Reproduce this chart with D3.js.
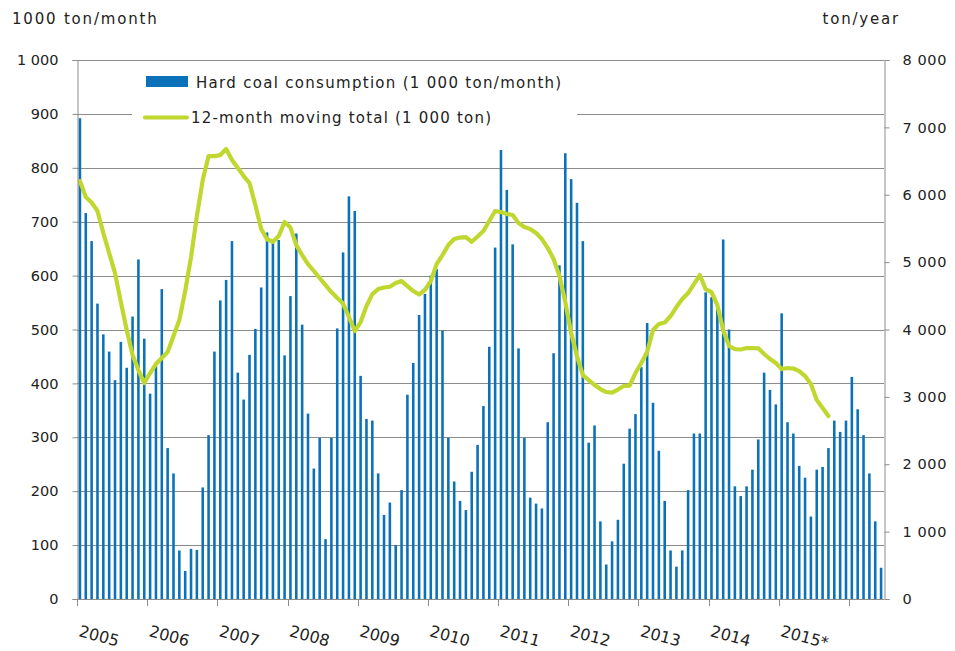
<!DOCTYPE html>
<html><head><meta charset="utf-8">
<script src="https://cdn.jsdelivr.net/npm/d3@7"></script>
<style>
body{margin:0;background:#fff;}
svg{display:block;font-family:"DejaVu Sans",Verdana,sans-serif;}
</style></head>
<body><svg id="c" width="955" height="651"></svg>
<script>
// ---------- DATA ----------
const years = ["2005","2006","2007","2008","2009","2010","2011","2012","2013","2014","2015","2016"];
const yearLabels = ["2005","2006","2007","2008","2009","2010","2011","2012","2013","2014","2015*"];
// Hard coal consumption, 1 000 ton/month (Jan 2005 ... Jun 2016)
const consumption = [
 892,716,664,548,491,459,406,477,429,524,630,483,
 381,432,575,280,233,90,52,93,91,207,304,459,
 554,592,664,420,370,453,501,578,680,666,666,452,
 562,678,509,344,242,299,111,299,502,643,747,720,
 414,334,331,233,156,179,100,202,379,438,527,566,
 600,612,498,299,218,182,165,236,286,358,468,652,
 833,759,658,465,299,188,177,168,328,456,619,827,
 779,735,664,290,322,144,64,107,147,251,316,343,
 430,512,364,275,182,90,60,90,202,307,307,569,
 560,540,667,500,209,191,209,240,296,420,388,361,
 530,328,307,247,225,153,240,245,280,331,310,331,
 412,352,304,233,144,58
];
// 12-month moving total, 1 000 ton
const movingTotal = [
 6203,5966,5884,5758,5431,5135,4838,4407,3992,3621,3398,3205,
 3354,3487,3576,3665,3903,4140,4571,5075,5684,6218,6574,6574,
 6589,6678,6515,6396,6277,6173,5847,5491,5340,5302,5387,5595,
 5513,5253,5105,4971,4868,4764,4660,4556,4467,4385,4185,3977,
 4111,4348,4526,4600,4623,4635,4690,4719,4645,4571,4519,4586,
 4719,4971,5105,5253,5342,5365,5372,5302,5380,5461,5610,5758,
 5743,5714,5699,5580,5520,5491,5431,5342,5209,5046,4793,4407,
 3947,3606,3324,3250,3176,3116,3072,3064,3109,3161,3168,3354,
 3502,3665,3992,4081,4103,4200,4333,4452,4541,4675,4808,4600,
 4556,4363,3992,3755,3710,3703,3725,3725,3720,3636,3562,3502,
 3413,3428,3421,3383,3309,3191,2953,2834,2716
];
const leftTicks = [0,100,200,300,400,500,600,700,800,900,1000];
const rightTicks = [0,1000,2000,3000,4000,5000,6000,7000,8000];
const seriesNames = ["Hard coal consumption (1 000 ton/month)","12-month moving total (1 000 ton)"];

// ---------- LAYOUT ----------
const months = [];
years.forEach(y => { for (let m = 1; m <= 12; m++) months.push(y + "-" + String(m).padStart(2,"0")); });
const cats = months.slice(0, consumption.length);

const L = 77, R = 884, T = 60, B = 599;
const barColor = "#0B72B9", lineColor = "#C0D72F", gridColor = "#8c8c8c", textColor = "#222";
const pad = 0.56;
const x = d3.scaleBand().domain(cats).range([L, R]).paddingInner(pad).paddingOuter(pad/2);
const yL = d3.scaleLinear().domain([0, 1000]).range([B, T]);
const yR = d3.scaleLinear().domain([0, 8000]).range([B, T]);
const fmt = v => d3.format(",")(v).replace(/,/g, " ");

const svg = d3.select("#c");

// gridlines
svg.append("g").selectAll("line").data(leftTicks.filter(d => d > 0)).join("line")
  .attr("x1", L).attr("x2", R).attr("y1", d => Math.round(yL(d)) + 0.5).attr("y2", d => Math.round(yL(d)) + 0.5)
  .attr("stroke", gridColor).attr("stroke-width", 1);

// legend background box (hides part of gridline)
svg.append("rect").attr("x", 132).attr("y", 64).attr("width", 445).attr("height", 62).attr("fill", "#fff");

// bars
svg.append("g").selectAll("rect").data(consumption).join("rect")
  .attr("x", (d, i) => x(cats[i])).attr("width", x.bandwidth())
  .attr("y", d => yL(d)).attr("height", d => B - yL(d))
  .attr("fill", barColor);

// line
const line = d3.line().x((d, i) => x(cats[i]) + x.bandwidth() / 2).y(d => yR(d)).curve(d3.curveLinear);
svg.append("path").datum(movingTotal).attr("d", line)
  .attr("fill", "none").attr("stroke", lineColor).attr("stroke-width", 4.2)
  .attr("stroke-linejoin", "round").attr("stroke-linecap", "round");

// left axis
const axL = svg.append("g").attr("transform", `translate(${L + 0.5},0)`)
  .call(d3.axisLeft(yL).tickValues(leftTicks).tickFormat(fmt).tickSize(5).tickPadding(14));
axL.select(".domain").attr("stroke", gridColor);
axL.selectAll(".tick line").attr("stroke", gridColor);
axL.selectAll("text").attr("font-size", 14.5).attr("fill", textColor).attr("font-family", "DejaVu Sans");

// right axis
const axR = svg.append("g").attr("transform", `translate(${R + 0.5},0)`)
  .call(d3.axisRight(yR).tickValues(rightTicks).tickFormat(fmt).tickSize(5).tickPadding(13));
axR.select(".domain").attr("stroke", gridColor);
axR.selectAll(".tick line").attr("stroke", gridColor);
axR.selectAll("text").attr("font-size", 14.5).attr("fill", textColor).attr("font-family", "DejaVu Sans")
  .attr("letter-spacing", 0.6);

// bottom axis
svg.append("line").attr("x1", L).attr("x2", R).attr("y1", B + 0.5).attr("y2", B + 0.5).attr("stroke", gridColor);
const boundary = i => x(cats[i]) - x.step() * pad / 2;
const tickIdx = d3.range(0, cats.length, 12);
svg.append("g").selectAll("line").data(tickIdx).join("line")
  .attr("x1", i => Math.round(boundary(i)) + 0.5).attr("x2", i => Math.round(boundary(i)) + 0.5)
  .attr("y1", B).attr("y2", B + 7).attr("stroke", gridColor);
svg.append("g").selectAll("text").data(yearLabels).join("text")
  .attr("transform", (d, k) => `translate(${boundary(k * 12) + 1},${636}) rotate(15)`)
  .attr("font-size", 16).attr("fill", textColor).text(d => d);

// titles
svg.append("text").attr("x", 12).attr("y", 24).attr("font-size", 15).attr("letter-spacing", 1.8)
  .attr("fill", textColor).text("1000 ton/month");
svg.append("text").attr("x", 900).attr("y", 24).attr("text-anchor", "end").attr("font-size", 15)
  .attr("letter-spacing", 1.8).attr("fill", textColor).text("ton/year");

// legend
const lg = svg.append("g");
lg.append("rect").attr("x", 146).attr("y", 76).attr("width", 42).attr("height", 11).attr("fill", barColor);
lg.append("text").attr("x", 196).attr("y", 88).attr("font-size", 15).attr("letter-spacing", 1.3)
  .attr("fill", textColor).text(seriesNames[0]);
lg.append("line").attr("x1", 145).attr("x2", 187).attr("y1", 117.5).attr("y2", 117.5)
  .attr("stroke", lineColor).attr("stroke-width", 4.2).attr("stroke-linecap", "round");
lg.append("text").attr("x", 191).attr("y", 123).attr("font-size", 15).attr("letter-spacing", 1.2)
  .attr("fill", textColor).text(seriesNames[1]);
</script></body></html>
